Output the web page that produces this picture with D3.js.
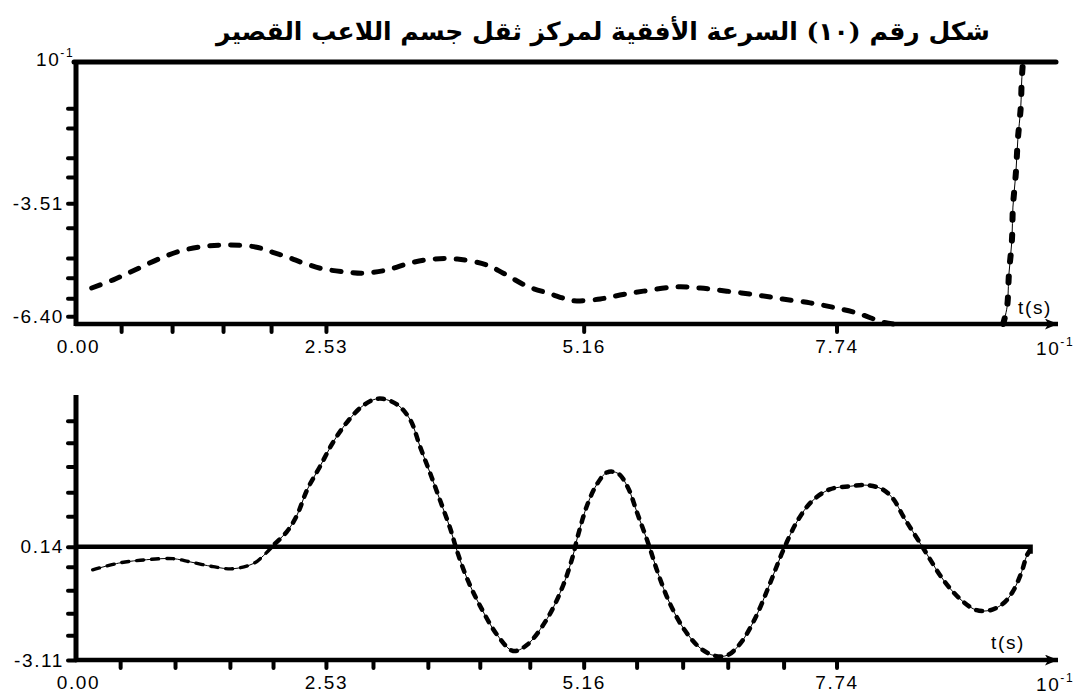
<!DOCTYPE html>
<html>
<head>
<meta charset="utf-8">
<script src="https://cdn.jsdelivr.net/npm/d3@7"></script>
<style>
  html, body { margin: 0; padding: 0; background: #fff; }
  svg { display: block; }
  .lbl { font-family: "Liberation Sans", Arial, sans-serif; font-size: 19px; letter-spacing: 1.6px; fill: #000; }
</style>
</head>
<body>
<svg id="chart" width="1081" height="698"></svg>
<script>
// Horizontal velocity of the centre of mass, two panels sharing a time axis (units of 10^-1 s)
const titleText = "شكل رقم (١٠) السرعة الأفقية لمركز ثقل جسم اللاعب القصير";

// Labelled time ticks and the unlabelled minor ticks of each panel
const xLabelTicks = [0, 2.53, 5.16, 7.74];
const topMinorX = [0.44, 0.96, 1.48, 1.97, 2.53, 5.16, 7.74];
const botMinorX = [0.43, 0.99, 1.55, 1.99, 2.53, 3.01, 3.57, 4.10, 4.61, 5.16, 5.70, 6.17, 6.63, 7.20, 7.74];

// Upper panel: value axis ticks
const topYLabels = [-3.51, -6.40];
const topYTicks = [-1.08, -1.59, -2.35, -2.84, -3.51, -4.14, -4.91, -5.42, -5.94, -6.40];

// Lower panel: value axis ticks
const botYLabels = [0.14, -3.11];
const botYTicks = [3.76, 3.13, 2.45, 1.71, 1.02, 0.14, -0.43, -1.11, -1.77, -2.40, -3.11];

// Upper panel series (time, velocity)
const topT = [0.14, 0.36, 0.58, 0.82, 1.05, 1.30, 1.53, 1.81, 1.98, 2.16, 2.30, 2.50, 2.74, 2.91, 3.15, 3.39, 3.62, 3.87, 4.17, 4.34, 4.58, 4.82, 5.02, 5.09, 5.33, 5.53, 5.77, 6.11, 6.35, 6.62, 6.93, 7.19, 7.47, 7.70, 7.95, 8.21, 8.32];
const topV = [-5.68, -5.47, -5.22, -4.94, -4.73, -4.61, -4.58, -4.63, -4.76, -4.91, -5.04, -5.19, -5.27, -5.30, -5.22, -5.04, -4.94, -4.94, -5.09, -5.30, -5.63, -5.83, -5.99, -6.01, -5.96, -5.86, -5.76, -5.65, -5.68, -5.76, -5.86, -5.96, -6.06, -6.17, -6.32, -6.55, -6.60];

// Upper panel: steep rise at the end
const spikeT = [9.44, 9.48, 9.50, 9.53, 9.54, 9.57, 9.59, 9.62, 9.63, 9.64];
const spikeV = [-6.60, -6.17, -5.30, -4.45, -3.61, -2.74, -1.89, -1.05, -0.36, 0.02];

// Lower panel series (time, velocity)
const botT = [0.15, 0.43, 0.70, 0.97, 1.14, 1.38, 1.58, 1.79, 1.89, 2.01, 2.13, 2.23, 2.34, 2.47, 2.60, 2.74, 2.88, 3.01, 3.11, 3.26, 3.39, 3.49, 3.59, 3.69, 3.80, 3.87, 3.97, 4.10, 4.28, 4.44, 4.58, 4.79, 4.95, 5.05, 5.10, 5.20, 5.30, 5.40, 5.51, 5.61, 5.71, 5.82, 5.92, 6.04, 6.19, 6.35, 6.50, 6.63, 6.76, 6.91, 7.06, 7.19, 7.34, 7.49, 7.67, 7.88, 8.05, 8.21, 8.32, 8.42, 8.52, 8.61, 8.69, 8.80, 8.90, 9.03, 9.17, 9.31, 9.44, 9.54, 9.63, 9.68, 9.71];
const botV = [-0.52, -0.32, -0.23, -0.20, -0.29, -0.43, -0.49, -0.34, -0.12, 0.23, 0.57, 1.02, 1.79, 2.45, 3.13, 3.70, 4.13, 4.36, 4.39, 4.22, 3.79, 3.02, 2.28, 1.51, 0.65, 0.00, -0.77, -1.54, -2.40, -2.85, -2.68, -1.91, -0.97, -0.12, 0.45, 1.37, 1.96, 2.28, 2.25, 1.85, 1.08, 0.23, -0.63, -1.49, -2.25, -2.77, -2.99, -2.97, -2.63, -1.91, -0.92, 0.00, 0.88, 1.45, 1.79, 1.88, 1.91, 1.79, 1.51, 1.02, 0.57, 0.17, -0.20, -0.69, -1.06, -1.43, -1.68, -1.68, -1.49, -1.14, -0.57, -0.12, 0.03];

const zeroLineLevel = 0.14;
const refLineEnd = 9.72;

const svg = d3.select("#chart");

const x = d3.scaleLinear().domain([0, 10]).range([78, 1058]);
const yTop = d3.scaleLinear().domain([-6.60, 0.10]).range([324, 62]);
const yBot = d3.scaleLinear().domain([-3.11, 4.50]).range([660, 395]);

// two decimals, plain hyphen for negatives
const fmt = d => d3.format(".2f")(d).replace("\u2212", "-");

// Title
svg.append("text")
  .attr("x", 603).attr("y", 40)
  .attr("text-anchor", "middle")
  .attr("direction", "rtl")
  .style("font-family", "'DejaVu Serif', 'DejaVu Sans', serif")
  .style("font-weight", "bold")
  .style("font-size", "25px")
  .text(titleText);

// Arrow head marker for the time axes
svg.append("defs").append("marker")
  .attr("id", "arrow")
  .attr("viewBox", "0 0 12 10")
  .attr("refX", 12).attr("refY", 5)
  .attr("markerWidth", 13).attr("markerHeight", 11)
  .attr("markerUnits", "userSpaceOnUse")
  .attr("orient", "auto")
  .append("path").attr("d", "M0,0 L12,5 L0,10 L3,5 Z").attr("fill", "#000");

function styleAxis(g, w) {
  g.select(".domain").remove();
  g.selectAll(".tick line").attr("stroke", "#000").attr("stroke-width", w).attr("stroke-linecap", "round");
  g.selectAll(".tick text").attr("class", "lbl").attr("fill", "#000");
}

function panel(y, yTicks, yLabels, minorX, axisW) {
  const g = svg.append("g");
  const y0 = y.range()[0];
  const y1 = y.range()[1];

  // x axis line with arrow
  g.append("line")
    .attr("x1", x(0) - 3).attr("x2", x(10))
    .attr("y1", y0).attr("y2", y0)
    .attr("stroke", "#000").attr("stroke-width", axisW)
    .attr("marker-end", "url(#arrow)");

  // y axis line
  g.append("line")
    .attr("x1", x(0) - 2).attr("x2", x(0) - 2)
    .attr("y1", y1).attr("y2", y0 + 2)
    .attr("stroke", "#000").attr("stroke-width", 5);

  // minor x ticks
  g.append("g").attr("transform", `translate(0,${y0})`)
    .call(d3.axisBottom(x).tickValues(minorX).tickSize(8).tickFormat(""))
    .call(a => styleAxis(a, 4));

  // x labels
  g.append("g").attr("transform", `translate(0,${y0})`)
    .call(d3.axisBottom(x).tickValues(xLabelTicks).tickSize(0).tickPadding(16).tickFormat(fmt))
    .call(a => styleAxis(a, 0));

  // y ticks
  g.append("g").attr("transform", `translate(${x(0) - 2},0)`)
    .call(d3.axisLeft(y).tickValues(yTicks).tickSize(8).tickFormat(""))
    .call(a => styleAxis(a, 4));

  // y labels
  g.append("g").attr("transform", `translate(${x(0) - 2},0)`)
    .call(d3.axisLeft(y).tickValues(yLabels).tickSize(0).tickPadding(12).tickFormat(fmt))
    .call(a => styleAxis(a, 0));

  // unit label at end of the time axis
  const u = g.append("text").attr("class", "lbl")
    .attr("x", x(10) - 22).attr("y", y0 + 31);
  u.append("tspan").text("10");
  u.append("tspan").attr("dy", -9).style("font-size", "12px").text("-1");

  return g;
}

const gTop = panel(yTop, topYTicks, topYLabels, topMinorX, 4.5);
const gBot = panel(yBot, botYTicks, botYLabels, botMinorX, 4.5);

// Upper panel: frame line at top and its unit label
gTop.append("line")
  .attr("x1", x(0) - 4).attr("x2", 1056)
  .attr("y1", yTop(0.10)).attr("y2", yTop(0.10))
  .attr("stroke", "#000").attr("stroke-width", 5).attr("stroke-linecap", "round");
const topUnit = gTop.append("text").attr("class", "lbl")
  .attr("x", 36).attr("y", yTop(0.10) + 4);
topUnit.append("tspan").text("10");
topUnit.append("tspan").attr("dy", -9).style("font-size", "12px").text("-1");

gTop.append("text").attr("class", "lbl").attr("text-anchor", "middle")
  .attr("x", 1035).attr("y", 314).text("t(s)");
gBot.append("text").attr("class", "lbl").attr("text-anchor", "middle")
  .attr("x", 1008).attr("y", 649).text("t(s)");

// Lower panel: reference level line with its small end hook
gBot.append("path")
  .attr("d", `M${x(0) - 4},${yBot(zeroLineLevel)} H${x(refLineEnd)} v7`)
  .attr("fill", "none").attr("stroke", "#000").attr("stroke-width", 4.5);

const lineOf = (y) => d3.line().x(d => x(d[0])).y(d => y(d[1])).curve(d3.curveCatmullRom);

// Upper panel curve (dashed)
gTop.append("path")
  .datum(d3.zip(topT, topV))
  .attr("d", lineOf(yTop))
  .attr("fill", "none").attr("stroke", "#000")
  .attr("stroke-width", 5).attr("stroke-linecap", "round")
  .attr("stroke-dasharray", "9,12");

// Upper panel end rise (dotted over a hairline)
const spike = d3.zip(spikeT, spikeV);
gTop.append("path").datum(spike).attr("d", lineOf(yTop))
  .attr("fill", "none").attr("stroke", "#000").attr("stroke-width", 1);
gTop.append("path").datum(spike).attr("d", lineOf(yTop))
  .attr("fill", "none").attr("stroke", "#000")
  .attr("stroke-width", 6).attr("stroke-linecap", "round")
  .attr("stroke-dasharray", "6,15");

// Lower panel curve: hairline plus dashes, thinner at the start
const bot = d3.zip(botT, botV);
gBot.append("path").datum(bot).attr("d", lineOf(yBot))
  .attr("fill", "none").attr("stroke", "#000").attr("stroke-width", 1);
gBot.append("path").datum(bot.filter(d => d[0] <= 2.01)).attr("d", lineOf(yBot))
  .attr("fill", "none").attr("stroke", "#000")
  .attr("stroke-width", 3.4).attr("stroke-linecap", "round")
  .attr("stroke-dasharray", "7,8");
gBot.append("path").datum(bot.filter(d => d[0] >= 2.01)).attr("d", lineOf(yBot))
  .attr("fill", "none").attr("stroke", "#000")
  .attr("stroke-width", 4.5).attr("stroke-linecap", "round")
  .attr("stroke-dasharray", "6,8");
</script>
</body>
</html>
